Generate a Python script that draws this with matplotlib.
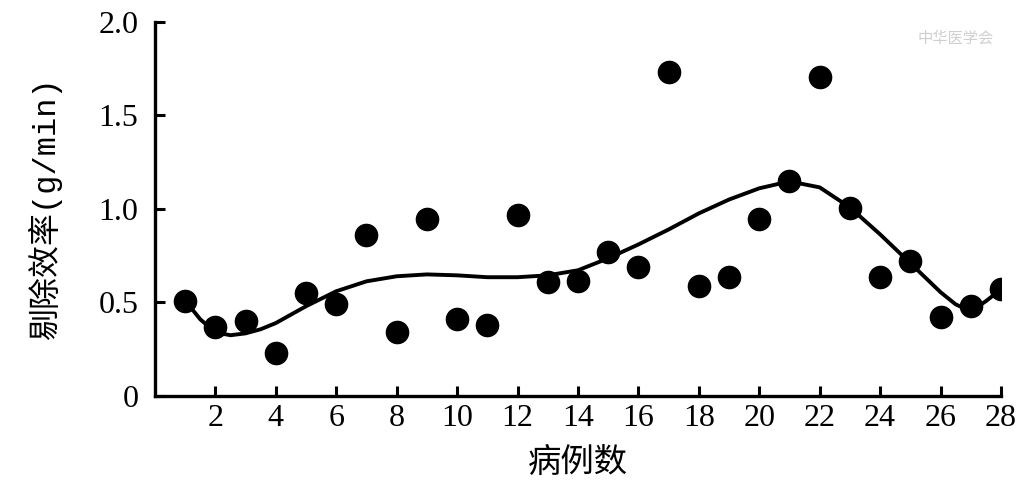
import matplotlib
matplotlib.use('Agg')
import matplotlib.pyplot as plt

# 每例剔除效率 (散点)
cases = list(range(1, 29))
rate = [0.51, 0.37, 0.40, 0.23, 0.55, 0.49, 0.86, 0.34, 0.945, 0.41,
        0.38, 0.97, 0.61, 0.613, 0.77, 0.69, 1.73, 0.587, 0.635, 0.945,
        1.147, 1.707, 1.003, 0.635, 0.72, 0.42, 0.48, 0.57]

# 拟合曲线
fit_x = [1, 1.5, 2, 2.5, 3, 3.5, 4, 5, 6, 7, 8, 9, 10, 11, 12, 13, 14, 15,
         16, 17, 18, 19, 20, 21, 22, 23, 24, 25, 26, 26.5, 27, 27.5, 28]
fit_y = [0.51, 0.41, 0.34, 0.325, 0.335, 0.357, 0.39, 0.48, 0.56, 0.613,
         0.64, 0.65, 0.645, 0.635, 0.635, 0.645, 0.672, 0.736, 0.81, 0.89,
         0.976, 1.05, 1.11, 1.147, 1.115, 1.008, 0.864, 0.71, 0.555, 0.49,
         0.453, 0.507, 0.57]

xticks = list(range(2, 29, 2))
yticks = [0, 0.5, 1.0, 1.5, 2.0]
ytick_labels = ['0', '0.5', '1.0', '1.5', '2.0']

serif = ['Liberation Serif', 'Noto Sans CJK SC']
mono = ['Liberation Mono', 'Noto Sans CJK SC']
cjk = ['Noto Sans CJK SC', 'DejaVu Sans']

fig = plt.figure(figsize=(10.33, 4.83), dpi=100)
ax = fig.add_axes([0.150, 0.180, 0.819, 0.775])

ax.plot(fit_x, fit_y, color='black', linewidth=2.8, zorder=2)
ax.plot(cases, rate, 'o', color='black', markersize=16, zorder=3)

ax.set_xlim(0, 28)
ax.set_ylim(0, 2.0)
ax.set_xticks(xticks)
ax.set_yticks(yticks)
ax.set_yticklabels(ytick_labels)

for lab in ax.get_xticklabels() + ax.get_yticklabels():
    lab.set_fontfamily(serif)
    lab.set_fontsize(23)

ax.tick_params(direction='in', length=7, width=2.2)
ax.tick_params(axis='x', pad=6)
ax.tick_params(axis='y', pad=12)

for s in ['top', 'right']:
    ax.spines[s].set_visible(False)
for s in ['left', 'bottom']:
    ax.spines[s].set_linewidth(2.4)

ax.set_xlabel('病例数', fontsize=24, family=cjk, labelpad=8)
ax.set_ylabel('剔除效率(g/min)', fontsize=23, family=mono, labelpad=26)

# 水印
fig.text(0.925, 0.92, '中华医学会', fontsize=11, color='#cfcfcf',
         family=cjk, style='italic', ha='center', va='center')

fig.savefig('out.png', dpi=100)
